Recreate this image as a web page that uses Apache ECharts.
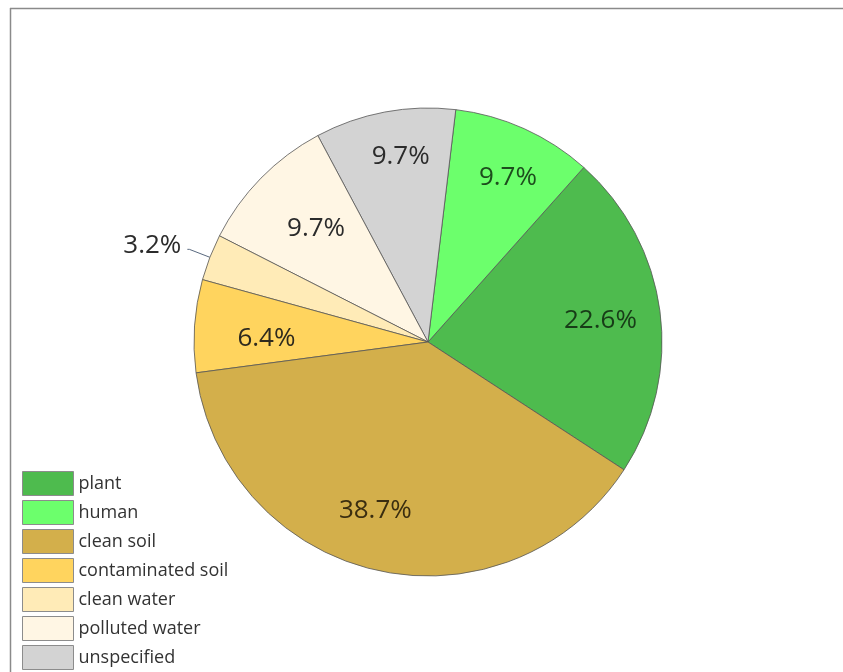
<!DOCTYPE html>
<html><head><meta charset="utf-8">
<script src="https://cdn.jsdelivr.net/npm/echarts@6/dist/echarts.min.js"></script>
<style>html,body{margin:0;padding:0;background:#fff}#c{width:843px;height:672px}</style>
</head><body><div id="c"></div>
<script>
const categories = ['plant', 'human', 'clean soil', 'contaminated soil', 'clean water', 'polluted water', 'unspecified'];
const values = [22.6, 9.7, 38.7, 6.4, 3.2, 9.7, 9.7];
const colors = ['#4EBB4E', '#6CFF6C', '#D3AF4B', '#FFD45E', '#FFEBB7', '#FFF6E4', '#D3D3D3'];
const labelColors = ['#173c17', '#1d4d1d', '#3b2e10', '#2e2a1e', '#2b2b2b', '#2b2b2b', '#2b2b2b'];
// order in which slices appear counterclockwise starting from the plant slice
const drawOrder = [0, 1, 6, 5, 4, 3, 2];
const outsideLabel = ['clean water'];

// small label nudges (px) so the labels sit where the reference has them
const labelNudge = {
  'plant': [-1, 2], 'human': [8, -5], 'clean soil': [-14, -2],
  'contaminated soil': [13, 9], 'polluted water': [13, 9], 'unspecified': [5, -13],
  'clean water': [0, -4]
};
function nudgePadding(n) {
  if (!n) return 0;
  const dx = n[0];
  return [0, dx < 0 ? -2 * dx : 0, 0, dx > 0 ? 2 * dx : 0];
}
function nudgeLineHeight(n) {
  return n && n[1] ? Math.max(2, 2 * Math.abs(n[1])) : undefined;
}
function labelText(p) {
  const t = p.value.toFixed(1) + '%';
  const n = labelNudge[p.name];
  if (!n || !n[1]) return t;
  return n[1] > 0 ? '\n' + t : t + '\n';
}

const R = 234, CX = 428, CY = 342;
const FONT = 'Open Sans';

const mainData = drawOrder.map(i => {
  const out = outsideLabel.includes(categories[i]);
  const lab = { show: out };
  if (out) { const lh = nudgeLineHeight(labelNudge[categories[i]]); if (lh) lab.lineHeight = lh; }
  return {
    name: categories[i], value: values[i],
    itemStyle: { color: colors[i] },
    label: lab,
    labelLine: { show: out }
  };
});
const labelData = drawOrder.map(i => {
  const lab = {
    show: !outsideLabel.includes(categories[i]), color: labelColors[i],
    padding: nudgePadding(labelNudge[categories[i]])
  };
  const lh = nudgeLineHeight(labelNudge[categories[i]]);
  if (lh) lab.lineHeight = lh;
  return { name: categories[i], value: values[i], label: lab };
});

const chart = echarts.init(document.getElementById('c'), null, { renderer: 'canvas' });
chart.setOption({
  animation: false,
  backgroundColor: '#fff',
  graphic: [
    { type: 'line', shape: { x1: 10, y1: 8.5, x2: 843, y2: 8.5 }, style: { stroke: '#8a8a8a', lineWidth: 1.5 } },
    { type: 'line', shape: { x1: 10.5, y1: 8, x2: 10.5, y2: 672 }, style: { stroke: '#8a8a8a', lineWidth: 1.5 } }
  ],
  legend: {
    orient: 'vertical', left: 22, top: 471, padding: 0,
    itemWidth: 51, itemHeight: 24, itemGap: 4,
    icon: 'rect',
    data: categories,
    itemStyle: { borderColor: '#8c8c8c', borderWidth: 1 },
    textStyle: { fontFamily: FONT, fontSize: 18, color: '#333' },
    selectedMode: false
  },
  series: [
    {
      name: 'main', type: 'pie', center: [CX, CY], radius: [0, R],
      clockwise: false, startAngle: -33.1,
      avoidLabelOverlap: false,
      itemStyle: { borderColor: '#555', borderWidth: 0.8 },
      label: {
        show: false, position: 'outside', fontFamily: FONT, fontSize: 26, color: '#2b2b2b',
        formatter: labelText, distanceToLabelLine: 6
      },
      labelLine: { show: false, length: 22, length2: 2, lineStyle: { color: '#5a6a80', width: 1 } },
      emphasis: { disabled: true },
      data: mainData
    },
    {
      name: 'labels', type: 'pie', center: [CX, CY], radius: [R * 0.47, R],
      clockwise: false, startAngle: -33.1, silent: true,
      itemStyle: { color: 'rgba(0,0,0,0)', borderWidth: 0 },
      label: {
        position: 'inside', fontFamily: FONT, fontSize: 26,
        formatter: labelText
      },
      labelLine: { show: false },
      emphasis: { disabled: true },
      data: labelData
    }
  ]
});
</script></body></html>
